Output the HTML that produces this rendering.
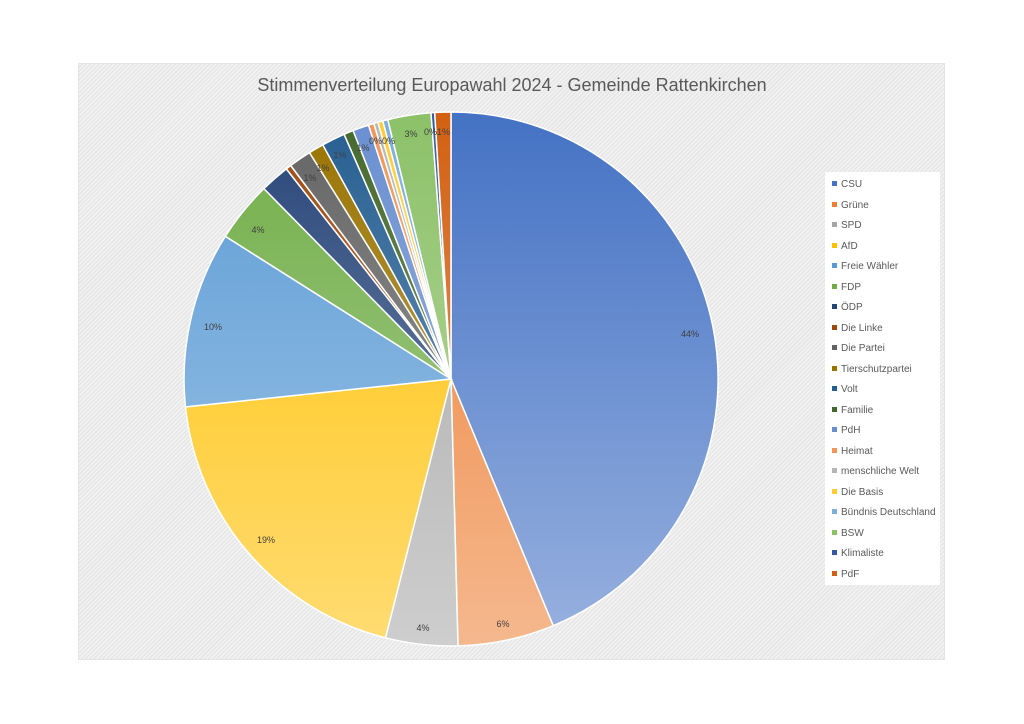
<!DOCTYPE html>
<html><head><meta charset="utf-8"><style>
body{margin:0;width:1024px;height:724px;background:#fff;position:relative;overflow:hidden;font-family:"Liberation Sans",sans-serif}
#chart{position:absolute;left:78px;top:63px;width:867px;height:597px;border:1px solid #e4e4e4;box-sizing:border-box;
background:repeating-linear-gradient(135deg,#f2f2f2 0 1.5px,#e6e6e6 1.5px 3px)}
#title{position:absolute;left:0;top:75px;width:1024px;text-align:center;font-size:18px;color:#595959}
#legend{position:absolute;left:825px;top:172px;width:115px;height:413px;background:#fff}
.li{position:absolute;left:7px;font-size:10px;color:#595959;white-space:nowrap}
.li i{display:inline-block;width:5px;height:5px;margin-right:4px;vertical-align:1px}
</style></head><body>
<div id="chart"></div>
<div id="title">Stimmenverteilung Europawahl 2024 - Gemeinde Rattenkirchen</div>
<svg id="pie" width="1024" height="724" style="position:absolute;left:0;top:0"></svg>
<div id="legend"></div>
<script>
var d=[["CSU","#4472C4",157.5],["Grüne","#ED7D31",178.5],["SPD","#A5A5A5",194.2],["AfD","#FFC000",264],["Freie Wähler","#5B9BD5",302.3],["FDP","#70AD47",315.5],["ÖDP","#264478",321.9],["Die Linke","#9E480E",323.1],["Die Partei","#636363",328],["Tierschutzpartei","#997300",331.3],["Volt","#255E91",336.4],["Familie","#43682B",338.5],["PdH","#698ED0",342],["Heimat","#F1975A",343.2],["menschliche Welt","#B7B7B7",344.1],["Die Basis","#FFCD33",345.2],["Bündnis Deutschland","#7CAFDD",346.3],["BSW","#8CC168",355.7],["Klimaliste","#335AA1",356.5],["PdF","#D26012",360]];
var cx=451,cy=379,r=267,s='<defs>',p='',a0=0;
function pt(a){a=a*Math.PI/180;return [cx+r*Math.sin(a),cy-r*Math.cos(a)];}
function lighten(h){var n=parseInt(h.slice(1),16),R=n>>16,G=(n>>8)&255,B=n&255;function f(c){return Math.round(c+(255-c)*0.45)}return 'rgb('+f(R)+','+f(G)+','+f(B)+')';}
d.forEach(function(e,i){var a1=e[2],A=pt(a0),B=pt(a1),l=(a1-a0)>180?1:0;
s+='<linearGradient id="g'+i+'" gradientUnits="userSpaceOnUse" x1="0" y1="112" x2="0" y2="646"><stop offset="0" stop-color="'+e[1]+'"/><stop offset="1" stop-color="'+lighten(e[1])+'"/></linearGradient>';
p+='<path d="M'+cx+','+cy+'L'+A[0].toFixed(1)+','+A[1].toFixed(1)+'A'+r+','+r+' 0 '+l+' 1 '+B[0].toFixed(1)+','+B[1].toFixed(1)+'Z" fill="url(#g'+i+')" stroke="#fff" stroke-width="1.5"/>';
a0=a1;
var L=document.createElement('div');L.className='li';L.style.top=(7+i*20.5)+'px';L.innerHTML='<i style="background:'+e[1]+'"></i>'+e[0];document.getElementById('legend').appendChild(L);});
s+='</defs>'+p;
var labs=[[690,337,"44%"],[503,627,"6%"],[423,631,"4%"],[266,543,"19%"],[213,330,"10%"],[258,233,"4%"],[411,137,"3%"],[437,135,"0%1%"],[310,181,"1%"],[323,171,"1%"],[340,158,"1%"],[363,151,"1%"],[382,144,"0%0%"]];
labs.forEach(function(t){s+='<text x="'+t[0]+'" y="'+t[1]+'" font-size="9" fill="#404040" text-anchor="middle" font-family="Liberation Sans,sans-serif">'+t[2]+'</text>';});
document.getElementById('pie').innerHTML=s;
</script>
</body></html>
